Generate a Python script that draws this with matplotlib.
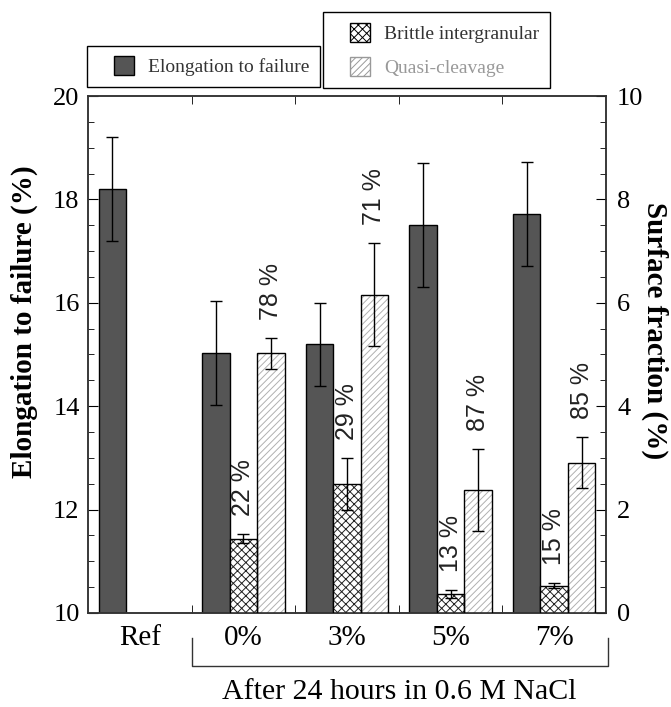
import numpy as np
import matplotlib
matplotlib.use("Agg")
import matplotlib.pyplot as plt
from matplotlib.patches import Patch, Rectangle
from matplotlib.legend_handler import HandlerPatch

# Elongation to failure (left axis) and fracture surface fractions (right axis)
categories = ["Ref", "0%", "3%", "5%", "7%"]
elongation = [18.2, 15.03, 15.2, 17.5, 17.72]
elongation_err = [1.0, 1.0, 0.8, 1.2, 1.0]

# surface fractions, no fractography for the reference sample
brittle = [1.44, 2.49, 0.36, 0.53]
brittle_err = [0.08, 0.5, 0.08, 0.05]
brittle_pct = ["22 %", "29 %", "13 %", "15 %"]
quasi = [5.02, 6.16, 2.38, 2.91]
quasi_err = [0.3, 1.0, 0.8, 0.5]
quasi_pct = ["78 %", "71 %", "87 %", "85 %"]

plt.rcParams["font.family"] = "Liberation Serif"
plt.rcParams["hatch.linewidth"] = 0.7

fig = plt.figure(figsize=(6.71, 7.07), dpi=100)
ax = fig.add_axes([0.1311, 0.133, 0.772, 0.7312])
ax2 = ax.twinx()

x = np.arange(len(categories))
xs = x[1:]
w = 0.265
dark = "#555555"
err_kw = dict(ecolor="black", elinewidth=1.0, capsize=4, capthick=1.0)

ax.bar(x - w, elongation, w, bottom=0, color=dark, edgecolor="black",
       linewidth=1.0, yerr=elongation_err, error_kw=err_kw, zorder=2)

# hatched bars: hatch drawn first, black outline on top
ax2.bar(xs, brittle, w, color="white", edgecolor="#222222", hatch="xxxx",
        linewidth=0, zorder=2)
ax2.bar(xs, brittle, w, fill=False, edgecolor="black", linewidth=1.0,
        yerr=brittle_err, error_kw=err_kw, zorder=3)
ax2.bar(xs + w, quasi, w, color="white", edgecolor="#b0b0b0", hatch="/////",
        linewidth=0, zorder=2)
ax2.bar(xs + w, quasi, w, fill=False, edgecolor="black", linewidth=1.0,
        yerr=quasi_err, error_kw=err_kw, zorder=3)

for xi, v, e, t in zip(xs, brittle, brittle_err, brittle_pct):
    ax2.annotate(t, (xi, v + e), xytext=(0, 13), textcoords="offset points",
                 rotation=90, ha="center", va="bottom", fontsize=18,
                 family="Liberation Sans", color="#222222")
for xi, v, e, t in zip(xs + w, quasi, quasi_err, quasi_pct):
    ax2.annotate(t, (xi, v + e), xytext=(0, 13), textcoords="offset points",
                 rotation=90, ha="center", va="bottom", fontsize=18,
                 family="Liberation Sans", color="#222222")

ax.set_xlim(-0.5, 4.5)
ax.set_ylim(10, 20)
ax2.set_ylim(0, 10)
ax.set_yticks(np.arange(10, 21, 2))
ax.set_yticks(np.arange(10, 20.01, 0.5), minor=True)
ax2.set_yticks(np.arange(0, 11, 2))
ax2.set_yticks(np.arange(0, 10.01, 0.5), minor=True)
ax.set_xticks(x)
ax.set_xticklabels(categories)
ax.set_xticks(np.arange(0.5, 4, 1), minor=True)

ax.tick_params(axis="x", which="major", length=0, labelsize=21, pad=9)
ax.tick_params(axis="x", which="minor", direction="in", length=6,
               top=True, bottom=True)
ax.tick_params(axis="y", which="major", direction="in", length=7, labelsize=19,
               pad=6)
ax.tick_params(axis="y", which="minor", direction="in", length=4)
ax2.tick_params(axis="y", which="major", direction="in", length=7, labelsize=19,
                pad=8)
ax2.tick_params(axis="y", which="minor", direction="in", length=4)

for a in (ax, ax2):
    for s in a.spines.values():
        s.set_linewidth(1.1)
        s.set_color("#333333")

ax.text(-0.1236, 0.563, "Elongation to failure (%)", transform=ax.transAxes,
        rotation=90, ha="center", va="center", fontsize=21, fontweight="bold")
ax.text(1.0945, 0.546, "Surface fraction (%)", transform=ax.transAxes,
        rotation=270, ha="center", va="center", fontsize=21,
        fontweight="bold")

# bracket grouping the NaCl-exposed samples
trans = ax.get_xaxis_transform()
ax.plot([0.5, 0.5, 4.52, 4.52], [-0.048, -0.1025, -0.1025, -0.048],
        color="#333333", lw=1.0, transform=trans, clip_on=False)
ax.text(2.5, -0.153, "After 24 hours in 0.6 M NaCl", transform=trans,
        ha="center", va="center", fontsize=21.5)


def right_square(legend, orig_handle, xdescent, ydescent, width, height,
                 fontsize):
    # square swatch pushed to the right end of the handle box
    s = fontsize * 1.0
    return Rectangle((width - s - xdescent, -ydescent), s, height)


hmap = {Patch: HandlerPatch(patch_func=right_square)}
leg_kw = dict(fontsize=14, fancybox=False, edgecolor="black", framealpha=1,
              borderpad=0.55, handlelength=1.85, handleheight=1.1,
              handletextpad=0.75, borderaxespad=0, handler_map=hmap)

h1 = [Patch(facecolor=dark, edgecolor="black", linewidth=1.0)]
leg1 = fig.legend(h1, ["Elongation to failure"], loc="lower left",
                  bbox_to_anchor=(0.1297, 0.877), **leg_kw)
leg1.get_frame().set_linewidth(1.0)
leg1.get_texts()[0].set_color("#333333")

h2 = [Patch(facecolor="white", edgecolor="black", hatch="xxxx", linewidth=1.0),
      Patch(facecolor="white", edgecolor="#999999", hatch="/////", linewidth=1.0)]
leg2 = fig.legend(h2, ["Brittle intergranular", "Quasi-cleavage"],
                  loc="lower left", bbox_to_anchor=(0.4814, 0.8755),
                  labelspacing=0.75, **leg_kw)
leg2.get_frame().set_linewidth(1.0)
leg2.get_texts()[0].set_color("#333333")
leg2.get_texts()[1].set_color("#999999")

fig.savefig("out.png", dpi=100)
